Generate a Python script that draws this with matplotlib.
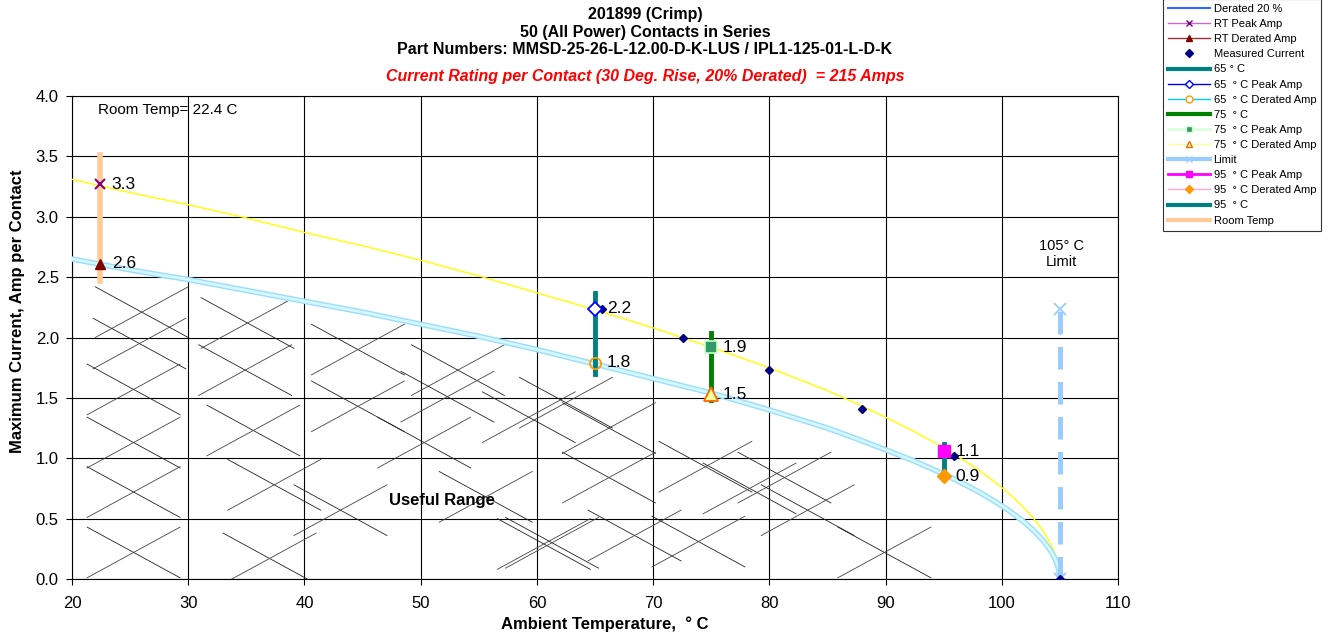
import matplotlib
matplotlib.use("Agg")
import matplotlib.pyplot as plt
from matplotlib.lines import Line2D

plt.rcParams['font.family'] = ['Liberation Sans', 'DejaVu Sans']

# fitted curves (peak current and 20 % derated)
curve_t = [20, 25, 30, 35, 40, 45, 50, 55, 60, 65, 70, 75, 80, 85, 87.5, 90,
           92.5, 95, 96, 97, 98, 99, 100, 100.5, 101, 101.5, 102, 102.5, 103,
           103.5, 104, 104.25, 104.5, 104.7, 104.85, 104.95, 105]
peak_curve = [3.31, 3.20, 3.10, 2.99, 2.87, 2.76, 2.64, 2.51, 2.37, 2.23, 2.08,
              1.92, 1.75, 1.56, 1.453, 1.34, 1.220, 1.086, 1.028, 0.967, 0.902,
              0.833, 0.757, 0.717, 0.674, 0.629, 0.581, 0.528, 0.470, 0.405,
              0.328, 0.282, 0.229, 0.175, 0.122, 0.069, 0.0]
derated_curve = [2.65, 2.56, 2.48, 2.39, 2.30, 2.21, 2.11, 2.01, 1.90, 1.78, 1.66,
                 1.54, 1.40, 1.25, 1.162, 1.07, 0.976, 0.869, 0.822, 0.774, 0.722,
                 0.666, 0.606, 0.574, 0.539, 0.503, 0.465, 0.422, 0.376, 0.324,
                 0.262, 0.226, 0.183, 0.140, 0.098, 0.055, 0.0]

measured_t = [65.6, 72.6, 80.0, 88.0, 95.9, 105.0]
measured_i = [2.24, 2.00, 1.73, 1.41, 1.02, 0.0]

room_temp = 22.4
rt_peak, rt_derated = 3.27, 2.61
t65_peak, t65_derated = 2.24, 1.79
t75_peak, t75_derated = 1.92, 1.53
t95_peak, t95_derated = 1.06, 0.85

point_t = [room_temp, room_temp, 65, 65, 75, 75, 95, 95]
point_i = [rt_peak, rt_derated, t65_peak, t65_derated, t75_peak, t75_derated,
           t95_peak, t95_derated]
point_labels = ["3.3", "2.6", "2.2", "1.8", "1.9", "1.5", "1.1", "0.9"]

rt_bar = (2.47, 3.51)
bar65 = (1.70, 2.37)
bar75 = (1.48, 2.04)
bar95 = (0.86, 1.12)
limit_t, limit_top = 105, 2.24

# "useful range" cross marks (centres)
cross_t = [26.0, 25.8, 25.3, 25.3, 25.3, 25.3,
           35.1, 34.9, 35.6, 37.4, 37.0,
           44.6, 53.2, 44.6, 52.3, 50.3, 43.1, 59.3, 55.6, 60.6,
           62.5, 66.2, 66.2, 74.5, 61.3, 68.4, 73.9, 78.3,
           81.3, 83.3, 89.9]
cross_i = [2.21, 1.95, 1.57, 1.13, 0.72, 0.22,
           2.12, 1.73, 1.23, 0.78, 0.17,
           1.90, 1.73, 1.43, 1.51, 1.13, 0.57, 1.34, 0.68, 0.29,
           1.46, 1.25, 0.84, 0.93, 0.30, 0.36, 0.31, 0.75,
           0.84, 0.57, 0.22]

fig = plt.figure(figsize=(13.38, 6.37), dpi=100)
ax = fig.add_axes([72/1338, 58/637, 1046/1338, 483/637])

ax.set_xlim(20, 110)
ax.set_ylim(0, 4.0)
ax.set_xticks(range(20, 111, 10))
ax.set_yticks([i * 0.5 for i in range(9)])
ax.set_yticklabels([f"{i * 0.5:.1f}" for i in range(9)])
ax.grid(True, color='black', lw=0.8)
ax.set_axisbelow(True)
ax.tick_params(labelsize=12, length=4.5, direction='out')
ax.tick_params(axis='x', pad=8)
ax.tick_params(axis='y', pad=5)

# crosses
w, h = 4.0, 0.21
for t, i in zip(cross_t, cross_i):
    ax.plot([t - w, t + w], [i + h, i - h], color='#222222', lw=0.6, zorder=1)
    ax.plot([t - w, t + w], [i - h, i + h], color='#444444', lw=0.6, zorder=1)

# curves
ax.plot(curve_t, peak_curve, color='#ffff00', lw=1.0, zorder=3)
ax.plot(curve_t, derated_curve, color='#99ddff', lw=4, zorder=3,
        solid_joinstyle='round')
ax.plot(curve_t, derated_curve, color='#d5f7ff', lw=2, zorder=3,
        solid_joinstyle='round')

# vertical bars
ax.plot([room_temp, room_temp], rt_bar, color='#ffcc99', lw=4, zorder=4)
ax.plot([65, 65], bar65, color='#008080', lw=3.5, zorder=4)
ax.plot([75, 75], bar75, color='#008000', lw=3.5, zorder=4)
ax.plot([95, 95], bar95, color='#008080', lw=3.5, zorder=4)
ax.plot([limit_t, limit_t], [0, limit_top], color='#99ccff', lw=3.6,
        dashes=(4.5, 2.5), zorder=4)
ax.plot([limit_t], [limit_top], 'x', color='#99ccff', ms=9, mew=1.3, zorder=5)
ax.plot([limit_t], [0], 'x', color='#99ccff', ms=9, mew=1.3, zorder=5)

# markers
ax.plot(measured_t, measured_i, 'D', color='#000080', ms=4.5, zorder=6)
ax.plot([room_temp], [rt_peak], 'x', color='#800080', ms=7, mew=1.5, zorder=7)
ax.plot([room_temp], [rt_derated], '^', color='#800000', ms=7, zorder=7)
ax.plot([65], [t65_peak], 'D', mfc='white', mec='#0000ff', mew=1.3, ms=7, zorder=7)
ax.plot([65], [t65_derated], 'o', mfc='none', mec='#ff9900', mew=1.3, ms=8, zorder=7)
ax.plot([75], [t75_peak], 's', color='#339966', mec='#ccffcc', mew=1.2, ms=8, zorder=7)
ax.plot([75], [t75_derated], '^', mfc='#ffff99', mec='#ff6600', mew=1.3, ms=10, zorder=7)
ax.plot([95], [t95_peak], 's', color='#ff00ff', ms=8, zorder=7)
ax.plot([95], [t95_derated], 'D', color='#ff9900', ms=7, zorder=7)

for t, v, s in zip(point_t, point_i, point_labels):
    ax.annotate(s, (t, v), xytext=(8.5, 0), textcoords='offset points',
                ha='left', va='center', fontsize=12.5, zorder=8)

ax.text(22.2, 3.88, "Room Temp= 22.4 C", fontsize=11, ha='left', va='center')
ax.text(105.1, 2.69, "105° C\nLimit", fontsize=10.5, ha='center', va='center',
        linespacing=1.2)
ax.text(51.8, 0.65, "Useful Range", fontsize=12, fontweight='bold',
        ha='center', va='center')

ax.set_xlabel("Ambient Temperature,  ° C", fontsize=12, fontweight='bold')
ax.set_ylabel("Maximum Current, Amp per Contact", fontsize=12, fontweight='bold')
ax.xaxis.set_label_coords((605 - 72) / 1046, (579 - 616) / 483)
ax.yaxis.set_label_coords((25 - 72) / 1046, (579 - 311) / 483)

# titles
cx = 645 / 1338
fig.text(cx, 1 - 14/637, "201899 (Crimp)", ha='center', va='center',
         fontsize=11.5, fontweight='bold')
fig.text(cx, 1 - 32/637, "50 (All Power) Contacts in Series", ha='center',
         va='center', fontsize=11.5, fontweight='bold')
fig.text(cx, 1 - 50/637, "Part Numbers: MMSD-25-26-L-12.00-D-K-LUS / IPL1-125-01-L-D-K",
         ha='center', va='center', fontsize=11.5, fontweight='bold')
fig.text(cx, 1 - 76/637,
         "Current Rating per Contact (30 Deg. Rise, 20% Derated)  = 215 Amps",
         ha='center', va='center', fontsize=11.5, fontweight='bold',
         style='italic', color='#ff0000')

# legend
handles = [
    Line2D([], [], color='#3366ff', lw=1.5),
    Line2D([], [], color='#cc66cc', lw=1, marker='x', mec='#800080', ms=5),
    Line2D([], [], color='#993333', lw=1, marker='^', mfc='#800000', mec='#800000', ms=5),
    Line2D([], [], ls='none', marker='D', color='#000080', ms=4),
    Line2D([], [], color='#008080', lw=3),
    Line2D([], [], color='#0000ff', lw=1, marker='D', mfc='white', ms=4),
    Line2D([], [], color='#00ccff', lw=1, marker='o', mfc='white', mec='#ff9900', ms=5),
    Line2D([], [], color='#008000', lw=3),
    Line2D([], [], color='#ddffdd', lw=2, marker='s', mfc='#339966', mec='#ccffcc', ms=4),
    Line2D([], [], color='#ffff99', lw=1, marker='^', mfc='#ffffcc', mec='#ff6600', ms=5),
    Line2D([], [], color='#99ccff', lw=3, marker='x', ms=4),
    Line2D([], [], color='#ff00ff', lw=2, marker='s', ms=5),
    Line2D([], [], color='#ffaacc', lw=1, marker='D', mfc='#ff9900', mec='#ff9900', ms=4),
    Line2D([], [], color='#008080', lw=3),
    Line2D([], [], color='#ffcc99', lw=3),
]
labels = ['Derated 20 %', 'RT Peak Amp', 'RT Derated Amp', 'Measured Current',
          '65 ° C', '65  ° C Peak Amp', '65  ° C Derated Amp', '75  ° C',
          '75  ° C Peak Amp', '75  ° C Derated Amp', 'Limit', '95  ° C Peak Amp',
          '95  ° C Derated Amp', '95  ° C', 'Room Temp']
leg = fig.legend(handles, labels, loc='upper left',
                 bbox_to_anchor=(1163/1338, 1.0 + 1/637), fontsize=8,
                 frameon=True, fancybox=False, edgecolor='black',
                 handlelength=3.8, handletextpad=0.3, labelspacing=0.46,
                 borderpad=0.45, borderaxespad=0)
leg.get_frame().set_linewidth(0.8)

fig.savefig("out.png", dpi=100)
